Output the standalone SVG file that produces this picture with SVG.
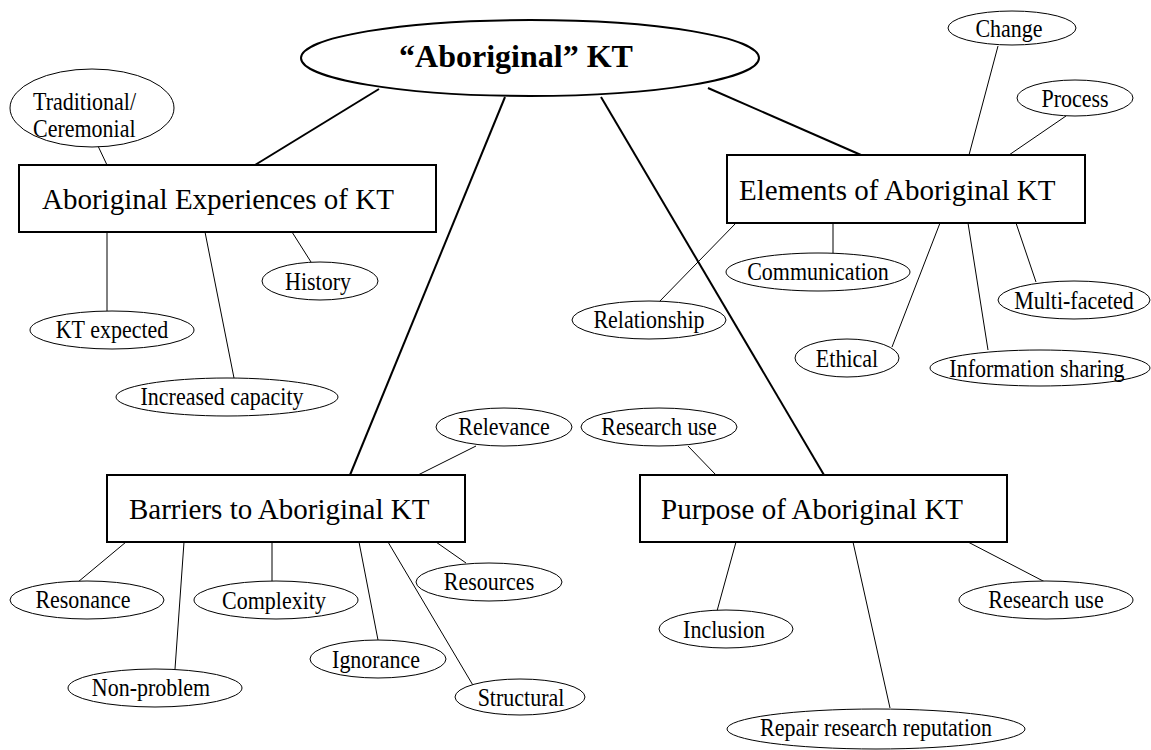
<svg xmlns="http://www.w3.org/2000/svg" width="1151" height="750" viewBox="0 0 1151 750">
  <style>
    text { font-family: "Liberation Serif", "Times New Roman", serif; fill: #000; }
    .title { font-size: 32px; font-weight: bold; text-anchor: middle; }
    .box-label { font-size: 29px; }
    .leaf-label { font-size: 22px; text-anchor: middle; }
    .leaf-label-left { font-size: 22px; text-anchor: start; }
    .box { fill: #fff; stroke: #000; stroke-width: 2; }
    .hub { fill: #fff; stroke: #000; stroke-width: 2; }
    .leaf { fill: #fff; stroke: #000; stroke-width: 1; }
    .main-link { stroke: #000; stroke-width: 2; fill: none; }
    .leaf-link { stroke: #000; stroke-width: 1; fill: none; }
  </style>

  <!-- connectors -->
  <g id="connectors">
    <!-- hub to category boxes -->
    <line class="main-link" x1="379" y1="89" x2="255" y2="165"/>
    <line class="main-link" x1="505" y1="97" x2="350" y2="475"/>
    <line class="main-link" x1="601" y1="97" x2="824" y2="475"/>
    <line class="main-link" x1="708" y1="88" x2="861" y2="155"/>
    <!-- experiences -->
    <line class="leaf-link" x1="98" y1="146" x2="107" y2="165"/>
    <line class="leaf-link" x1="107" y1="232" x2="107" y2="311"/>
    <line class="leaf-link" x1="205" y1="232" x2="234" y2="378"/>
    <line class="leaf-link" x1="292" y1="232" x2="311" y2="262"/>
    <!-- elements -->
    <line class="leaf-link" x1="998" y1="46" x2="969" y2="155"/>
    <line class="leaf-link" x1="1066" y1="116" x2="1009" y2="155"/>
    <line class="leaf-link" x1="659" y1="302" x2="736" y2="223"/>
    <line class="leaf-link" x1="833" y1="223" x2="833" y2="253"/>
    <line class="leaf-link" x1="892" y1="347" x2="940" y2="223"/>
    <line class="leaf-link" x1="968" y1="223" x2="988" y2="350"/>
    <line class="leaf-link" x1="1016" y1="223" x2="1036" y2="282"/>
    <!-- barriers -->
    <line class="leaf-link" x1="476" y1="446" x2="418" y2="475"/>
    <line class="leaf-link" x1="126" y1="542" x2="78" y2="582"/>
    <line class="leaf-link" x1="184" y1="542" x2="175" y2="669"/>
    <line class="leaf-link" x1="272" y1="542" x2="272" y2="582"/>
    <line class="leaf-link" x1="359" y1="542" x2="378" y2="640"/>
    <line class="leaf-link" x1="388" y1="542" x2="474" y2="687"/>
    <line class="leaf-link" x1="436" y1="542" x2="466" y2="563"/>
    <!-- purpose -->
    <line class="leaf-link" x1="688" y1="446" x2="716" y2="475"/>
    <line class="leaf-link" x1="736" y1="542" x2="717" y2="611"/>
    <line class="leaf-link" x1="853" y1="542" x2="890" y2="708"/>
    <line class="leaf-link" x1="968" y1="542" x2="1045" y2="582"/>
  </g>

  <!-- hub -->
  <g id="hub">
    <ellipse class="hub" cx="530" cy="58" rx="229" ry="38"/>
    <text class="title" x="516" y="67">“Aboriginal” KT</text>
  </g>

  <!-- category boxes -->
  <g id="experiences">
    <rect class="box" x="19" y="165" width="417" height="67"/>
    <text class="box-label" x="42" y="209">Aboriginal Experiences of KT</text>
  </g>
  <g id="elements">
    <rect class="box" x="727" y="155" width="358" height="68"/>
    <text class="box-label" x="739" y="200">Elements of Aboriginal KT</text>
  </g>
  <g id="barriers">
    <rect class="box" x="107" y="475" width="358" height="67"/>
    <text class="box-label" x="129" y="519">Barriers to Aboriginal KT</text>
  </g>
  <g id="purpose">
    <rect class="box" x="640" y="475" width="367" height="67"/>
    <text class="box-label" x="661" y="519">Purpose of Aboriginal KT</text>
  </g>

  <!-- leaf labels are drawn a little taller than wide: scale(1 1.12) about the baseline -->

  <!-- experiences leaves -->
  <g id="traditional">
    <ellipse class="leaf" cx="92" cy="108" rx="82" ry="39"/>
    <text class="leaf-label-left" transform="translate(33 110) scale(1 1.12)">Traditional/</text>
    <text class="leaf-label-left" transform="translate(33 137) scale(1 1.12)">Ceremonial</text>
  </g>
  <g id="kt-expected">
    <ellipse class="leaf" cx="112" cy="330" rx="82" ry="19"/>
    <text class="leaf-label" transform="translate(112 338) scale(1 1.12)">KT expected</text>
  </g>
  <g id="increased-capacity">
    <ellipse class="leaf" cx="227" cy="397" rx="111" ry="19"/>
    <text class="leaf-label" transform="translate(222 405) scale(1 1.12)">Increased capacity</text>
  </g>
  <g id="history">
    <ellipse class="leaf" cx="320" cy="281" rx="58" ry="19"/>
    <text class="leaf-label" transform="translate(318 290) scale(1 1.12)">History</text>
  </g>

  <!-- elements leaves -->
  <g id="change">
    <ellipse class="leaf" cx="1012" cy="28" rx="64" ry="17"/>
    <text class="leaf-label" transform="translate(1009 37) scale(1 1.12)">Change</text>
  </g>
  <g id="process">
    <ellipse class="leaf" cx="1075" cy="98" rx="58" ry="18"/>
    <text class="leaf-label" transform="translate(1075 107) scale(1 1.12)">Process</text>
  </g>
  <g id="relationship">
    <ellipse class="leaf" cx="649" cy="320" rx="77" ry="19"/>
    <text class="leaf-label" transform="translate(649 328) scale(1 1.12)">Relationship</text>
  </g>
  <g id="communication">
    <ellipse class="leaf" cx="818" cy="272" rx="92" ry="19"/>
    <text class="leaf-label" transform="translate(818 280) scale(1 1.12)">Communication</text>
  </g>
  <g id="ethical">
    <ellipse class="leaf" cx="847" cy="358" rx="52" ry="19"/>
    <text class="leaf-label" transform="translate(847 367) scale(1 1.12)">Ethical</text>
  </g>
  <g id="information-sharing">
    <ellipse class="leaf" cx="1040" cy="368" rx="110" ry="18"/>
    <text class="leaf-label" transform="translate(1037 377) scale(1 1.12)">Information sharing</text>
  </g>
  <g id="multi-faceted">
    <ellipse class="leaf" cx="1074" cy="300" rx="76" ry="19"/>
    <text class="leaf-label" transform="translate(1074 309) scale(1 1.12)">Multi-faceted</text>
  </g>

  <!-- barriers leaves -->
  <g id="relevance">
    <ellipse class="leaf" cx="504" cy="427" rx="68" ry="19"/>
    <text class="leaf-label" transform="translate(504 435) scale(1 1.12)">Relevance</text>
  </g>
  <g id="resonance">
    <ellipse class="leaf" cx="87" cy="600" rx="77" ry="19"/>
    <text class="leaf-label" transform="translate(83 608) scale(1 1.12)">Resonance</text>
  </g>
  <g id="non-problem">
    <ellipse class="leaf" cx="155" cy="688" rx="87" ry="19"/>
    <text class="leaf-label" transform="translate(151 696) scale(1 1.12)">Non-problem</text>
  </g>
  <g id="complexity">
    <ellipse class="leaf" cx="276" cy="600" rx="82" ry="19"/>
    <text class="leaf-label" transform="translate(274 609) scale(1 1.12)">Complexity</text>
  </g>
  <g id="ignorance">
    <ellipse class="leaf" cx="378" cy="659" rx="68" ry="19"/>
    <text class="leaf-label" transform="translate(376 668) scale(1 1.12)">Ignorance</text>
  </g>
  <g id="structural">
    <ellipse class="leaf" cx="520" cy="697" rx="65" ry="18"/>
    <text class="leaf-label" transform="translate(521 706) scale(1 1.12)">Structural</text>
  </g>
  <g id="resources">
    <ellipse class="leaf" cx="489" cy="582" rx="73" ry="19"/>
    <text class="leaf-label" transform="translate(489 590) scale(1 1.12)">Resources</text>
  </g>

  <!-- purpose leaves -->
  <g id="research-use-top">
    <ellipse class="leaf" cx="659" cy="427" rx="78" ry="19"/>
    <text class="leaf-label" transform="translate(659 435) scale(1 1.12)">Research use</text>
  </g>
  <g id="inclusion">
    <ellipse class="leaf" cx="726" cy="629" rx="67" ry="19"/>
    <text class="leaf-label" transform="translate(724 638) scale(1 1.12)">Inclusion</text>
  </g>
  <g id="repair-reputation">
    <ellipse class="leaf" cx="876" cy="729" rx="149" ry="20"/>
    <text class="leaf-label" transform="translate(876 736) scale(1 1.12)">Repair research reputation</text>
  </g>
  <g id="research-use-right">
    <ellipse class="leaf" cx="1046" cy="600" rx="87" ry="19"/>
    <text class="leaf-label" transform="translate(1046 608) scale(1 1.12)">Research use</text>
  </g>
</svg>
